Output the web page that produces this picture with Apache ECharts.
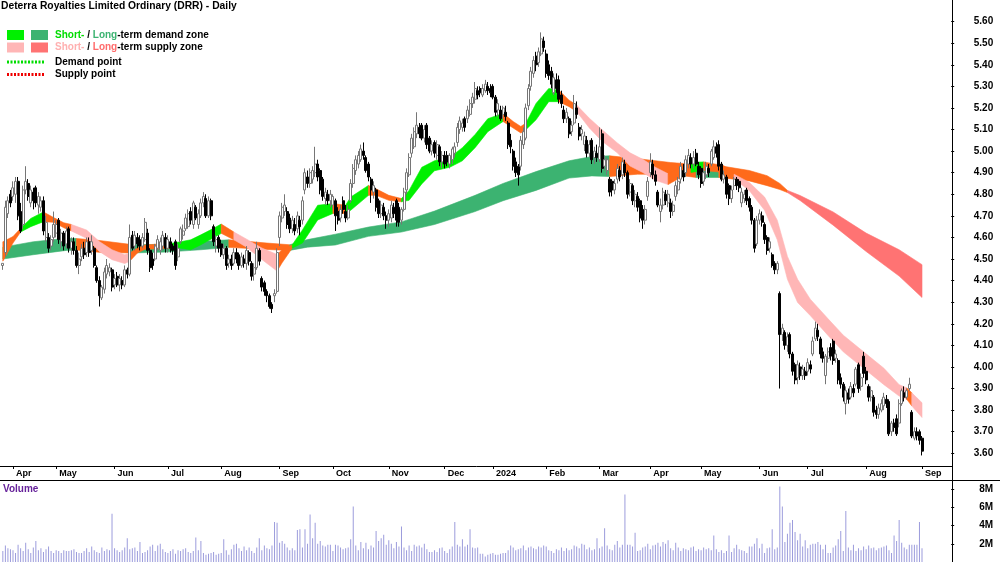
<!DOCTYPE html>
<html>
<head>
<meta charset="utf-8">
<script src="https://cdn.jsdelivr.net/npm/echarts@6.0.0/dist/echarts.min.js"></script>
<style>
html,body{margin:0;padding:0;background:#ffffff;}
#chart{width:1000px;height:562px;}
</style>
</head>
<body>
<div id="chart"></div>
<script>
// ================= DATA =================
const chartTitle = 'Deterra Royalties Limited Ordinary (DRR) - Daily';
const holidays = ['2023-04-07','2023-04-10','2023-04-25','2023-06-12','2023-12-25','2023-12-26',
  '2024-01-01','2024-01-26','2024-03-29','2024-04-01','2024-04-25','2024-06-10'];
const firstDate = '2023-03-28';
const lastDate = '2024-09-02';
const paddingBars = 11;
const monthLabels = ['Apr','May','Jun','Jul','Aug','Sep','Oct','Nov','Dec','2024','Feb','Mar','Apr','May','Jun','Jul','Aug','Sep'];
const priceTicks = [3.6,3.7,3.8,3.9,4.0,4.1,4.2,4.3,4.4,4.5,4.6,4.7,4.8,4.9,5.0,5.1,5.2,5.3,5.4,5.5,5.6];
const volumeTicks = [2,4,6,8];

const opens = [
 4.47,4.53,4.71,4.80,
 4.79,4.80,4.86,4.72,4.66,4.82,4.85,4.76,4.81,4.83,4.75,4.74,4.77,4.60,4.60,4.56,4.60,
 4.62,4.68,4.58,4.62,4.57,4.64,4.55,4.58,4.54,4.47,4.51,4.55,4.53,4.58,4.54,4.55,4.46,4.40,4.32,4.36,4.43,4.44,4.45,
 4.38,4.42,4.38,4.40,4.38,4.45,4.43,4.61,4.56,4.60,4.59,4.56,4.59,4.62,4.54,4.50,4.50,4.55,4.54,4.56,4.60,
 4.55,4.58,4.56,4.58,4.51,4.58,4.61,4.64,4.65,4.72,4.66,4.74,4.66,4.70,4.76,4.78,4.70,4.77,4.65,4.56,4.60,
 4.57,4.52,4.55,4.48,4.50,4.48,4.53,4.52,4.47,4.50,4.48,4.53,4.48,4.43,4.46,4.54,4.41,4.39,4.35,4.33,4.29,4.33,4.35,
 4.60,4.69,4.72,4.72,4.69,4.64,4.66,4.64,4.68,4.68,4.82,4.88,4.85,4.87,4.90,4.94,4.91,4.87,4.78,4.80,4.77,
 4.75,4.77,4.72,4.69,4.77,4.72,4.69,4.77,4.85,4.91,4.94,4.96,5.00,4.97,4.94,4.87,4.81,4.82,4.77,4.71,4.74,4.70,
 4.68,4.69,4.74,4.77,4.74,4.68,4.73,4.82,4.89,4.99,5.02,5.08,5.11,5.12,5.06,5.12,5.06,5.00,5.04,4.98,5.02,4.95,
 4.98,4.98,4.94,4.96,4.99,5.04,5.10,5.11,5.15,5.15,5.17,5.22,5.24,5.28,5.29,5.26,5.28,5.30,5.29,
 5.30,5.25,5.19,5.19,5.17,5.18,5.13,5.05,5.00,4.95,4.93,4.93,5.03,5.06,5.21,5.30,5.36,5.44,5.41,5.45,5.51,
 5.45,5.40,5.37,5.27,5.33,5.33,5.26,5.19,5.15,5.15,5.09,5.13,5.20,5.11,5.08,5.03,5.05,4.99,5.05,4.97,4.99,
 4.96,5.08,4.93,4.91,4.87,4.86,4.82,4.87,4.91,4.89,4.94,4.90,4.81,4.84,4.77,4.79,4.77,4.73,4.68,4.79,
 4.90,4.94,4.89,4.81,4.72,4.75,4.80,4.76,4.76,4.72,4.79,4.82,4.87,4.91,4.90,4.94,4.97,4.94,4.99,4.93,
 4.92,4.86,4.89,4.92,4.94,4.97,5.02,5.03,4.94,4.87,4.88,4.84,4.78,4.84,4.87,4.86,4.76,4.78,4.82,4.78,4.74,4.68,4.57,
 4.68,4.70,4.66,4.60,4.55,4.52,4.48,4.45,4.34,4.15,4.16,4.10,4.15,4.06,4.01,3.95,4.00,3.96,3.98,
 3.98,4.01,4.06,4.13,4.17,4.13,4.07,3.96,4.04,4.09,4.12,4.04,4.03,3.95,3.92,3.83,3.88,3.86,3.90,3.92,4.01,3.91,4.05,
 3.98,3.91,3.86,3.86,3.80,3.78,3.80,3.82,3.85,3.84,3.70,3.74,3.76,3.74,3.83,3.88,3.86,3.90,3.79,3.67,3.70,3.70,
 3.67
];
const highs = [
 4.48,4.77,4.79,4.82,
 4.86,4.88,4.88,4.76,4.84,4.93,4.87,4.84,4.83,4.84,4.81,4.79,4.79,4.70,4.62,4.61,4.72,
 4.68,4.69,4.64,4.63,4.65,4.65,4.60,4.60,4.56,4.53,4.57,4.58,4.60,4.60,4.61,4.56,4.47,4.42,4.38,4.46,4.50,4.48,4.46,
 4.43,4.44,4.43,4.42,4.47,4.46,4.66,4.63,4.63,4.62,4.61,4.62,4.69,4.64,4.55,4.53,4.57,4.61,4.60,4.63,4.62,
 4.61,4.60,4.57,4.59,4.57,4.65,4.66,4.71,4.73,4.74,4.77,4.75,4.73,4.78,4.81,4.80,4.79,4.78,4.66,4.61,4.61,
 4.59,4.57,4.56,4.52,4.52,4.55,4.55,4.53,4.53,4.52,4.56,4.54,4.49,4.48,4.58,4.55,4.42,4.40,4.36,4.34,4.30,4.36,4.55,
 4.72,4.76,4.80,4.74,4.71,4.70,4.69,4.72,4.70,4.79,4.92,4.91,4.92,4.93,5.02,4.96,4.92,4.88,4.83,4.82,4.82,
 4.80,4.78,4.74,4.75,4.79,4.75,4.75,4.87,4.94,4.98,5.00,5.03,5.04,4.98,4.95,4.88,4.86,4.83,4.78,4.77,4.76,4.72,
 4.73,4.77,4.76,4.78,4.76,4.74,4.83,4.92,4.99,5.08,5.11,5.18,5.13,5.13,5.12,5.13,5.07,5.05,5.05,5.05,5.03,5.00,
 5.00,5.00,4.99,5.02,5.04,5.13,5.16,5.15,5.16,5.21,5.24,5.27,5.32,5.30,5.30,5.31,5.33,5.32,5.31,
 5.31,5.26,5.24,5.21,5.21,5.21,5.14,5.08,5.01,4.97,4.94,5.07,5.11,5.22,5.31,5.39,5.44,5.46,5.48,5.55,5.53,
 5.47,5.42,5.39,5.36,5.36,5.35,5.28,5.21,5.20,5.16,5.14,5.26,5.23,5.13,5.12,5.09,5.07,5.05,5.06,5.02,5.03,
 5.11,5.10,4.98,4.97,4.88,4.87,4.87,4.94,4.93,4.97,4.96,4.91,4.87,4.85,4.82,4.81,4.78,4.75,4.75,4.88,
 4.99,4.96,4.91,4.82,4.78,4.83,4.82,4.82,4.78,4.77,4.86,4.88,4.95,4.94,4.98,5.01,4.99,5.00,5.01,4.95,
 4.93,4.92,4.95,4.94,5.01,5.05,5.04,5.05,4.95,4.91,4.89,4.85,4.84,4.88,4.88,4.87,4.83,4.82,4.83,4.79,4.75,4.69,4.70,
 4.73,4.72,4.67,4.61,4.60,4.53,4.49,4.49,4.35,4.20,4.17,4.16,4.16,4.07,4.02,4.03,4.02,4.01,4.00,
 4.04,4.03,4.14,4.21,4.20,4.14,4.09,4.06,4.09,4.11,4.13,4.08,4.04,3.97,3.93,3.91,3.90,3.93,3.92,4.00,4.02,3.97,4.07,
 4.00,3.92,3.91,3.87,3.82,3.83,3.85,3.88,3.87,3.85,3.75,3.76,3.78,3.85,3.90,3.91,3.90,3.95,3.80,3.72,3.72,3.71,
 3.68
];
const lows = [
 4.45,4.51,4.69,4.74,
 4.77,4.76,4.68,4.62,4.64,4.80,4.77,4.74,4.73,4.74,4.71,4.72,4.61,4.58,4.53,4.54,4.58,
 4.60,4.57,4.55,4.54,4.55,4.53,4.52,4.52,4.46,4.43,4.49,4.50,4.51,4.51,4.52,4.46,4.39,4.28,4.31,4.34,4.41,4.42,4.35,
 4.36,4.37,4.35,4.36,4.37,4.41,4.42,4.54,4.54,4.55,4.54,4.55,4.58,4.52,4.44,4.45,4.49,4.54,4.52,4.54,4.53,
 4.53,4.53,4.52,4.45,4.49,4.57,4.59,4.63,4.64,4.66,4.64,4.68,4.64,4.69,4.74,4.69,4.69,4.68,4.56,4.53,4.53,
 4.51,4.50,4.45,4.46,4.45,4.47,4.48,4.45,4.46,4.46,4.45,4.47,4.40,4.40,4.45,4.47,4.35,4.33,4.30,4.27,4.25,4.30,4.34,
 4.56,4.67,4.70,4.64,4.62,4.62,4.61,4.62,4.61,4.66,4.80,4.83,4.83,4.85,4.88,4.86,4.80,4.77,4.75,4.75,4.74,
 4.73,4.63,4.66,4.67,4.71,4.67,4.68,4.76,4.83,4.89,4.92,4.95,4.96,4.90,4.86,4.76,4.78,4.72,4.69,4.69,4.68,4.64,
 4.65,4.67,4.69,4.65,4.65,4.66,4.72,4.80,4.88,4.97,5.01,5.06,5.06,5.05,5.04,5.01,4.99,4.98,4.97,4.96,4.93,4.92,
 4.92,4.93,4.92,4.94,4.97,5.02,5.08,5.09,5.09,5.13,5.16,5.20,5.22,5.24,5.25,5.25,5.27,5.26,5.25,
 5.24,5.16,5.16,5.14,5.15,5.14,5.01,4.99,4.91,4.88,4.84,4.91,5.01,5.05,5.19,5.28,5.34,5.37,5.39,5.44,5.46,
 5.34,5.33,5.29,5.26,5.27,5.22,5.20,5.13,5.13,5.06,5.07,5.12,5.15,5.05,5.05,5.00,4.97,4.97,4.94,4.94,4.95,
 4.95,4.90,4.91,4.89,4.79,4.79,4.80,4.85,4.86,4.87,4.88,4.78,4.79,4.75,4.74,4.72,4.67,4.64,4.66,4.77,
 4.88,4.87,4.84,4.74,4.67,4.73,4.75,4.74,4.69,4.70,4.77,4.80,4.85,4.86,4.88,4.92,4.92,4.92,4.93,4.87,
 4.83,4.84,4.87,4.88,4.93,4.96,4.97,4.91,4.86,4.85,4.78,4.75,4.76,4.82,4.82,4.81,4.74,4.76,4.75,4.72,4.66,4.53,4.56,
 4.66,4.65,4.57,4.52,4.53,4.46,4.43,4.43,3.90,4.12,4.08,4.07,4.04,3.96,3.92,3.92,3.94,3.94,3.94,
 3.96,3.97,4.05,4.12,4.12,4.04,4.02,3.92,4.02,4.03,4.01,4.02,3.92,3.90,3.84,3.78,3.83,3.85,3.86,3.91,3.88,3.89,3.95,
 3.92,3.84,3.84,3.77,3.76,3.76,3.79,3.80,3.81,3.68,3.68,3.70,3.68,3.72,3.82,3.84,3.85,3.89,3.67,3.66,3.66,3.64,
 3.59
];
const closes = [
 4.48,4.74,4.77,4.76,
 4.83,4.86,4.70,4.63,4.82,4.86,4.79,4.82,4.77,4.76,4.79,4.77,4.63,4.67,4.55,4.59,4.66,
 4.66,4.59,4.62,4.56,4.63,4.55,4.58,4.54,4.47,4.50,4.55,4.52,4.58,4.53,4.58,4.47,4.40,4.33,4.37,4.44,4.47,4.46,4.37,
 4.41,4.38,4.41,4.38,4.45,4.43,4.60,4.55,4.61,4.57,4.56,4.60,4.67,4.54,4.46,4.47,4.56,4.59,4.58,4.61,4.55,
 4.59,4.55,4.54,4.47,4.55,4.64,4.63,4.69,4.71,4.68,4.76,4.69,4.71,4.76,4.79,4.70,4.77,4.70,4.58,4.59,4.55,
 4.52,4.55,4.47,4.50,4.47,4.53,4.50,4.47,4.51,4.48,4.54,4.49,4.42,4.46,4.55,4.49,4.37,4.35,4.33,4.28,4.27,4.34,4.53,
 4.70,4.74,4.75,4.66,4.64,4.68,4.63,4.70,4.65,4.77,4.90,4.85,4.90,4.91,4.94,4.88,4.82,4.79,4.81,4.77,4.80,
 4.79,4.70,4.68,4.73,4.73,4.69,4.73,4.85,4.92,4.96,4.98,5.01,4.98,4.91,4.88,4.82,4.84,4.74,4.71,4.75,4.70,4.68,
 4.71,4.75,4.71,4.68,4.67,4.73,4.81,4.90,4.97,5.06,5.09,5.12,5.08,5.06,5.10,5.03,5.00,5.03,4.99,5.03,4.95,4.98,
 4.94,4.95,4.98,5.01,5.02,5.11,5.14,5.13,5.11,5.19,5.22,5.25,5.29,5.26,5.27,5.29,5.31,5.28,5.27,
 5.25,5.18,5.22,5.15,5.20,5.16,5.03,5.02,4.93,4.90,4.89,5.05,5.09,5.20,5.29,5.37,5.42,5.40,5.46,5.52,5.48,
 5.36,5.35,5.31,5.34,5.29,5.24,5.22,5.15,5.18,5.08,5.12,5.22,5.17,5.07,5.10,5.07,4.99,5.03,4.96,5.00,4.97,
 5.02,4.92,4.96,4.96,4.81,4.82,4.85,4.92,4.88,4.95,4.90,4.80,4.85,4.77,4.80,4.74,4.69,4.68,4.73,4.86,
 4.95,4.89,4.86,4.75,4.75,4.81,4.77,4.80,4.72,4.75,4.84,4.86,4.93,4.88,4.96,4.98,4.94,4.97,4.94,4.89,
 4.85,4.90,4.93,4.90,5.00,5.02,4.99,4.93,4.87,4.89,4.80,4.78,4.82,4.87,4.84,4.83,4.81,4.80,4.77,4.74,4.68,4.55,4.68,
 4.71,4.67,4.59,4.54,4.58,4.47,4.45,4.48,4.15,4.18,4.10,4.14,4.06,3.98,3.94,4.01,3.96,3.99,3.96,
 4.02,3.99,4.12,4.18,4.14,4.06,4.04,4.05,4.07,4.05,4.03,4.06,3.94,3.92,3.86,3.89,3.85,3.91,3.88,3.99,3.90,3.95,3.97,
 3.94,3.86,3.89,3.79,3.78,3.81,3.83,3.86,3.83,3.69,3.74,3.72,3.69,3.83,3.89,3.86,3.89,3.92,3.68,3.70,3.68,3.66,
 3.61
];
// volume in millions of shares
const volumes = [
 1.2,1.8,1.5,1.4,
 1.3,1.0,1.9,1.5,1.2,2.1,1.4,1.0,1.6,2.3,1.3,1.5,1.1,1.4,1.7,1.2,1.0,
 1.3,1.2,1.0,1.3,1.2,1.2,1.3,1.4,1.1,1.0,1.0,1.2,1.5,1.1,1.7,1.3,1.1,1.0,1.6,1.2,1.4,1.3,5.3,
 1.5,1.3,1.1,1.3,1.6,2.6,1.4,1.5,1.6,1.2,2.2,1.0,1.1,1.3,1.7,1.9,1.2,1.8,2.0,1.4,1.1,
 1.0,1.2,1.4,0.9,1.3,1.2,1.4,1.5,1.1,1.0,1.2,2.7,1.3,2.3,1.0,0.8,0.9,1.0,1.1,0.8,0.9,
 1.0,2.5,1.3,0.8,1.4,1.9,2.0,1.5,1.2,1.7,1.3,1.6,1.2,1.0,1.6,2.6,1.3,1.8,1.5,1.4,1.8,4.4,4.3,
 2.1,2.3,2.0,1.6,1.3,1.5,1.3,3.5,3.6,1.6,3.6,2.0,5.2,2.6,4.3,2.0,2.3,1.8,1.7,1.9,1.9,
 1.2,1.9,1.8,1.6,1.4,1.5,1.6,2.5,6.1,1.8,1.3,2.2,1.5,2.1,1.4,1.8,1.6,3.4,2.3,2.6,3.0,1.9,
 2.4,2.0,1.5,2.2,1.7,3.9,1.6,1.3,1.8,1.2,1.9,1.7,1.8,1.6,2.0,1.4,1.1,1.1,1.3,1.1,1.5,1.6,
 1.2,1.0,1.4,1.7,4.4,1.9,1.7,2.5,1.7,1.9,3.6,1.6,1.5,1.6,0.9,0.9,0.6,0.8,0.9,
 1.0,0.8,0.8,0.9,1.0,1.0,1.3,1.8,1.6,1.3,1.4,1.5,1.8,1.3,1.6,1.7,1.5,1.4,1.7,1.6,1.8,
 1.7,1.3,1.2,1.0,1.4,1.3,1.6,1.2,1.5,1.3,1.4,1.8,1.7,1.5,2.0,1.9,1.4,1.6,1.3,1.4,2.6,
 1.5,1.7,3.7,1.8,1.4,1.3,1.9,2.3,1.6,1.9,7.4,1.9,1.9,1.7,3.2,1.2,1.3,1.6,1.7,2.0,
 1.4,1.8,1.9,2.1,1.7,2.2,2.0,2.4,1.5,1.3,2.1,1.6,1.2,1.5,1.4,1.3,1.6,1.7,1.2,1.4,
 1.3,1.6,1.4,1.5,1.3,2.9,1.4,1.1,1.3,1.0,1.2,2.9,1.1,1.5,1.9,1.4,1.3,1.2,1.0,1.7,1.7,2.0,2.6,
 1.5,2.0,1.0,1.5,1.6,3.6,1.4,1.6,8.3,6.1,2.2,3.1,4.3,4.6,3.3,2.4,3.1,1.7,2.4,
 1.5,1.9,2.0,2.0,2.2,1.9,1.4,1.9,1.0,1.0,1.6,1.8,2.5,3.4,1.2,5.6,1.6,1.3,1.9,1.2,1.5,1.3,1.7,
 1.4,1.8,1.5,1.6,1.3,1.5,1.6,1.7,1.8,1.3,1.0,2.9,2.3,4.6,2.1,1.6,1.4,1.9,1.9,1.9,1.9,4.4,
 1.5
];

// long-term zone (bar index, upper edge, lower edge, zone state from this point on)
const ltIdx = [0,12,25,29,38,50,64,78,89,104,113,120,131,144,157,170,186,197,210,223,232,239,250,263,273,282,294,301,306,309,314,327,340,353,362];
const ltTop = [4.555,4.580,4.596,4.595,4.586,4.568,4.566,4.581,4.589,4.574,4.566,4.590,4.615,4.648,4.672,4.722,4.795,4.850,4.905,4.955,4.975,4.978,4.965,4.947,4.938,4.933,4.910,4.886,4.850,4.818,4.794,4.718,4.620,4.543,4.474];
const ltBot = [4.500,4.520,4.540,4.542,4.531,4.528,4.532,4.543,4.554,4.544,4.540,4.555,4.565,4.605,4.625,4.660,4.720,4.770,4.818,4.875,4.885,4.882,4.893,4.893,4.878,4.878,4.862,4.840,4.822,4.808,4.771,4.657,4.535,4.421,4.322];
const ltCol = ['D','D','D','O','O','D','D','D','O','O','D','D','D','D','D','D','D','D','D','D','D','O','O','O','D','O','O','O','O','R','R','R','R','R','R'];

// short-term zone
const stIdx = [0,4,7,11,16,20,24,27,33,38,43,48,50,53,56,62,66,70,74,78,83,86,91,96,102,108,110,114,118,124,130,135,137,144,147,152,157,160,165,170,176,181,186,191,197,201,204,206,210,215,219,223,226,231,236,242,247,252,257,262,267,271,276,284,288,294,300,305,309,313,318,325,331,339,347,353,356,358,362];
const stTop = [4.58,4.604,4.642,4.688,4.718,4.692,4.668,4.660,4.634,4.581,4.543,4.520,4.528,4.551,4.565,4.570,4.572,4.580,4.589,4.612,4.642,4.662,4.625,4.592,4.551,4.521,4.543,4.566,4.635,4.749,4.757,4.749,4.787,4.841,4.825,4.795,4.780,4.818,4.925,4.955,4.970,5.016,5.077,5.150,5.175,5.137,5.114,5.130,5.221,5.290,5.282,5.236,5.213,5.152,5.099,5.038,4.992,4.962,4.925,4.895,4.924,4.947,4.950,4.932,4.893,4.855,4.787,4.680,4.512,4.406,4.314,4.223,4.147,4.070,3.994,3.918,3.903,3.880,3.834];
const stBot = [4.49,4.574,4.625,4.650,4.673,4.670,4.645,4.630,4.596,4.535,4.497,4.479,4.490,4.528,4.545,4.548,4.550,4.550,4.543,4.566,4.598,4.619,4.589,4.555,4.498,4.444,4.483,4.551,4.574,4.681,4.711,4.711,4.726,4.795,4.795,4.772,4.765,4.772,4.848,4.909,4.925,4.955,5.016,5.090,5.137,5.107,5.084,5.099,5.145,5.229,5.229,5.206,5.183,5.107,5.046,4.992,4.931,4.901,4.865,4.845,4.878,4.901,4.910,4.901,4.871,4.817,4.726,4.589,4.406,4.299,4.238,4.146,4.070,3.994,3.918,3.865,3.850,3.819,3.766];
const stCol = ['O','O','G','G','O','O','O','P','P','P','P','P','O','O','O','O','G','G','G','G','G','O','P','P','P','O','O','G','G','G','O','G','G','O','O','O','G','G','G','G','G','G','G','G','O','O','O','G','G','G','O','O','P','P','P','P','P','P','P','O','O','G','O','O','P','P','P','P','P','P','P','P','P','P','P','P','O','P','P'];

// ================= CHART =================
const F = 'Liberation Sans';
const zoneColors = {D:'#3cb371', G:'#00f000', O:'#ff6a1a', P:'#ffb6b6', R:'#ff7373'};

function buildDates(){
  const out = [];
  const d = new Date(firstDate + 'T00:00:00Z');
  const end = new Date(lastDate + 'T00:00:00Z');
  while (d <= end) {
    const wd = d.getUTCDay();
    const s = d.toISOString().slice(0,10);
    if (wd > 0 && wd < 6 && holidays.indexOf(s) < 0) out.push(s);
    d.setUTCDate(d.getUTCDate() + 1);
  }
  return out;
}
const dates = buildDates();
const categories = dates.concat(Array.from({length: paddingBars}, (_, k) => 'pad' + k));
const labelAt = {};
let mi = 0;
for (let i = 1; i < dates.length; i++) {
  if (dates[i].slice(0,7) !== dates[i-1].slice(0,7)) labelAt[i] = monthLabels[mi++];
}
const isMonthStart = (i) => labelAt[i] !== undefined;

const candles = opens.map((o, i) => [o, closes[i], lows[i], highs[i]]);

function bandSeries(name, idx, top, bot, col) {
  const runs = [];
  let s = 0;
  for (let k = 1; k < idx.length; k++) {
    if (k === idx.length - 1 || col[k] !== col[s]) { runs.push([s, k]); s = k; }
  }
  return {
    type: 'custom', name: name, xAxisIndex: 0, yAxisIndex: 0, silent: true,
    data: runs.map(r => [idx[r[0]], top[r[0]], bot[r[0]]]),
    encode: {x: 0, y: [1, 2]},
    renderItem: function (params, api) {
      const r = runs[params.dataIndex];
      const pts = [];
      for (let k = r[0]; k <= r[1]; k++) pts.push(api.coord([idx[k], top[k]]));
      for (let k = r[1]; k >= r[0]; k--) pts.push(api.coord([idx[k], bot[k]]));
      const c = zoneColors[col[r[0]]];
      return {type: 'polygon', shape: {points: pts}, style: {fill: c, stroke: c, lineWidth: 0.6}};
    }
  };
}

const GL = 1.57, GR = 48.8;
const axisFont = {fontSize: 9, fontWeight: 'bold', fontFamily: F, color: '#000'};
const valFont = {fontSize: 10, fontWeight: 'bold', fontFamily: F, color: '#000'};

const option = {
  animation: false,
  backgroundColor: '#ffffff',
  grid: [
    {left: GL, right: GR, top: -6.375, height: 481.25},
    {left: GL, right: GR, top: 480, height: 85.5}
  ],
  xAxis: [
    {type: 'category', gridIndex: 0, data: categories, boundaryGap: true, position: 'bottom', offset: -8.875,
     axisLine: {show: false}, splitLine: {show: false},
     axisTick: {show: true, alignWithLabel: true, interval: isMonthStart, length: 3, lineStyle: {color: '#000', width: 1}},
     axisLabel: Object.assign({show: true, interval: isMonthStart, formatter: (v, i) => labelAt[i] || '',
       align: 'left', padding: [0,0,0,3], margin: 3}, axisFont)},
    {type: 'category', gridIndex: 1, data: categories, boundaryGap: true, show: false}
  ],
  yAxis: [
    {type: 'value', gridIndex: 0, position: 'right', min: 3.5, max: 5.7, interval: 0.1,
     axisLine: {show: false}, splitLine: {show: false},
     axisTick: {show: true, length: 3, customValues: priceTicks, lineStyle: {color: '#000'}},
     axisLabel: Object.assign({customValues: priceTicks, margin: 42, align: 'right',
       formatter: v => (v < 3.55 || v > 5.65) ? '' : v.toFixed(2)}, valFont)},
    {type: 'value', gridIndex: 1, position: 'right', min: 0, max: 9, interval: 2,
     axisLine: {show: false}, splitLine: {show: false},
     axisTick: {show: true, length: 3, customValues: volumeTicks, lineStyle: {color: '#000'}},
     axisLabel: Object.assign({customValues: volumeTicks, margin: 42, align: 'right',
       formatter: v => v ? v + 'M' : ''}, valFont)}
  ],
  series: [
    bandSeries('Long-term zone', ltIdx, ltTop, ltBot, ltCol),
    bandSeries('Short-term zone', stIdx, stTop, stBot, stCol),
    {type: 'candlestick', name: 'DRR', xAxisIndex: 0, yAxisIndex: 0, data: candles, barWidth: 2.5,
     itemStyle: {color: '#ffffff', color0: '#000000', borderColor: '#767676', borderColor0: '#000000', borderWidth: 1}},
    {type: 'bar', name: 'Volume', xAxisIndex: 1, yAxisIndex: 1, data: volumes, barWidth: 1,
     itemStyle: {color: '#9c9cdc'}, silent: true}
  ],
  graphic: [
    {type: 'line', z: 100, shape: {x1: 952.5, y1: 0, x2: 952.5, y2: 562}, style: {stroke: '#000', lineWidth: 1}},
    {type: 'line', z: 100, shape: {x1: 0, y1: 466.5, x2: 952.5, y2: 466.5}, style: {stroke: '#000', lineWidth: 1}},
    {type: 'line', z: 100, shape: {x1: 0, y1: 480.5, x2: 1000, y2: 480.5}, style: {stroke: '#000', lineWidth: 1}},
    {type: 'text', z: 100, x: 1, y: 1, style: {text: chartTitle, font: 'bold 10.3px "' + F + '"', fill: '#000', verticalAlign: 'top'}},
    {type: 'rect', z: 100, shape: {x: 7, y: 30, width: 17, height: 10}, style: {fill: '#00f000'}},
    {type: 'rect', z: 100, shape: {x: 31, y: 30, width: 17, height: 10}, style: {fill: '#3cb371'}},
    {type: 'rect', z: 100, shape: {x: 7, y: 42.5, width: 17, height: 10}, style: {fill: '#ffb6b6'}},
    {type: 'rect', z: 100, shape: {x: 31, y: 42.5, width: 17, height: 10}, style: {fill: '#ff7373'}},
    {type: 'text', z: 100, x: 55, y: 35, style: {
      text: '{a|Short-}{k| / }{b|Long}{k|-term demand zone}', verticalAlign: 'middle',
      rich: {a: {fill: '#00dd00', font: 'bold 10px "' + F + '"'}, b: {fill: '#3cb371', font: 'bold 10px "' + F + '"'}, k: {fill: '#000', font: 'bold 10px "' + F + '"'}}}},
    {type: 'text', z: 100, x: 55, y: 47.5, style: {
      text: '{a|Short-}{k| / }{b|Long}{k|-term supply zone}', verticalAlign: 'middle',
      rich: {a: {fill: '#ffb0b0', font: 'bold 10px "' + F + '"'}, b: {fill: '#ff6b6b', font: 'bold 10px "' + F + '"'}, k: {fill: '#000', font: 'bold 10px "' + F + '"'}}}},
    {type: 'line', z: 100, shape: {x1: 7, y1: 62, x2: 45, y2: 62}, style: {stroke: '#00dd00', lineWidth: 3, lineDash: [2, 1.5]}},
    {type: 'line', z: 100, shape: {x1: 7, y1: 74.5, x2: 45, y2: 74.5}, style: {stroke: '#ee0000', lineWidth: 3, lineDash: [2, 1.5]}},
    {type: 'text', z: 100, x: 55, y: 62, style: {text: 'Demand point', font: 'bold 10px "' + F + '"', fill: '#000', verticalAlign: 'middle'}},
    {type: 'text', z: 100, x: 55, y: 74.5, style: {text: 'Supply point', font: 'bold 10px "' + F + '"', fill: '#000', verticalAlign: 'middle'}},
    {type: 'text', z: 100, x: 3, y: 489, style: {text: 'Volume', font: 'bold 10px "' + F + '"', fill: '#66229a', verticalAlign: 'middle'}}
  ]
};

const chart = echarts.init(document.getElementById('chart'), null, {renderer: 'canvas'});
chart.setOption(option);
</script>
</body>
</html>
